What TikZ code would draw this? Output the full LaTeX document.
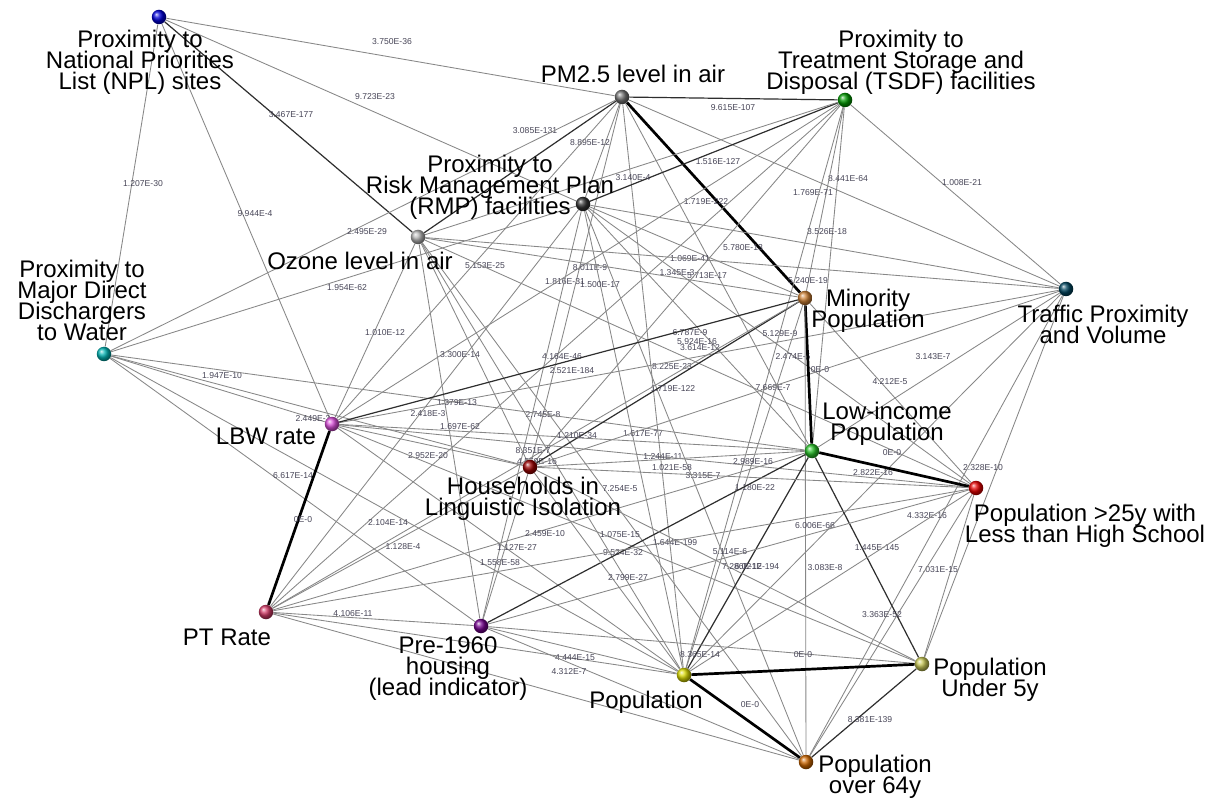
\documentclass[tikz,border=0pt]{standalone}
\usepackage{fontspec}
\setmainfont{Liberation Sans}
\pgfdeclarelayer{edgelayer}
\pgfsetlayers{edgelayer,main}
\definecolor{lbl}{RGB}{72,70,88}
% one connector with its p-value printed at a given spot
\newcommand\edgelink[5]{%
  \draw[#1] (#2) -- (#3);
  \node[el] (l#2#3) at (#4) {#5};}
\begin{document}
\begin{tikzpicture}[x=1pt,y=-1pt,
  ball/.style={circle,inner sep=0pt,minimum size=14.5pt,shading=ball,ball color=#1},
  eg/.style={draw=black!47,line width=0.85pt},
  ed/.style={draw=black!82,line width=1.2pt},
  et/.style={draw=black,line width=2.7pt},
  el/.style={font=\fontsize{8.6}{9}\selectfont,text=lbl,inner sep=0pt},
  nl/.style={font={\fontsize{24}{21}\selectfont\lineskiplimit=-30pt},align=center,inner sep=0pt,text=black}]
\useasboundingbox (0,0) rectangle (1210,799);

% indicator nodes
\node[ball={blue!85!black}]          (A) at (159,17)  {};
\node[ball={black!55}]               (B) at (622,97)  {};
\node[ball={green!60!black}]         (C) at (845,100) {};
\node[ball={black!80}]               (D) at (583,204) {};
\node[ball={black!30}]               (E) at (418,237) {};
\node[ball={cyan!70!black}]          (F) at (104,354) {};
\node[ball={teal!60!black!90!blue}]  (G) at (1066,289){};
\node[ball={brown!80!orange}]        (H) at (805,298) {};
\node[ball={violet!45!magenta!70}]   (I) at (332,424) {};
\node[ball={green!70!black!85}]      (J) at (812,451) {};
\node[ball={red!60!black}]           (K) at (530,467) {};
\node[ball={red!90!black}]           (L) at (976,488) {};
\node[ball={purple!70!pink}]         (M) at (266,612) {};
\node[ball={violet!90!blue}]         (N) at (481,626) {};
\node[ball={yellow!85!black}]        (O) at (684,675) {};
\node[ball={olive!45!white}]         (P) at (922,664) {};
\node[ball={orange!80!black}]        (Q) at (806,762) {};

% node captions
\node[nl] (tA) at (140,62)  {Proximity to\\National Priorities\\List (NPL) sites};
\node[nl] (tB) at (633,74)  {PM2.5 level in air};
\node[nl] (tC) at (901,62)  {Proximity to\\Treatment Storage and\\Disposal (TSDF) facilities};
\node[nl] (tD) at (490,187) {Proximity to\\Risk Management Plan\\(RMP) facilities};
\node[nl] (tE) at (360,261) {Ozone level in air};
\node[nl] (tF) at (82,300)  {Proximity to\\Major Direct\\Dischargers\\to Water};
\node[nl] (tG) at (1103,324){Traffic Proximity\\and Volume};
\node[nl] (tH) at (868,311) {Minority\\Population};
\node[nl] (tI) at (266,436) {LBW rate};
\node[nl] (tJ) at (887,424) {Low-income\\Population};
\node[nl] (tK) at (523,499) {Households in\\Linguistic Isolation};
\node[nl] (tL) at (1085,526){Population >25y with\\Less than High School};
\node[nl] (tM) at (227,637) {PT Rate};
\node[nl] (tN) at (448,669) {Pre-1960\\housing\\(lead indicator)};
\node[nl] (tO) at (646,702) {Population};
\node[nl] (tP) at (990,680) {Population\\Under 5y};
\node[nl] (tQ) at (875,777) {Population\\over 64y};

\begin{pgfonlayer}{edgelayer}
\fill[white] (0,0) rectangle (1210,799);
\edgelink{eg}{A}{B}{392,42}{3.750E-36}
\edgelink{eg}{A}{D}{375,97}{9.723E-23}
\edgelink{ed}{A}{E}{291,115}{3.467E-177}
\edgelink{eg}{A}{F}{143,184}{1.207E-30}
\edgelink{eg}{A}{I}{255,214}{9.944E-4}
\edgelink{ed}{B}{C}{733,108}{9.615E-107}
\edgelink{eg}{B}{D}{590,143}{8.895E-12}
\edgelink{ed}{B}{E}{535,131}{3.085E-131}
\edgelink{eg}{B}{F}{367,232}{2.495E-29}
\edgelink{eg}{B}{G}{848,179}{8.441E-64}
\edgelink{et}{B}{H}{706,202}{1.719E-222}
\edgelink{eg}{B}{I}{485,266}{5.153E-25}
\edgelink{eg}{B}{J}{707,276}{5.713E-17}
\edgelink{eg}{B}{K}{565,282}{1.816E-31}
\edgelink{eg}{B}{O}{672,367}{8.225E-23}
\edgelink{ed}{C}{D}{718,162}{1.516E-127}
\edgelink{eg}{C}{E}{633,178}{3.140E-4}
\edgelink{eg}{C}{G}{962,183}{1.008E-21}
\edgelink{eg}{C}{H}{813,193}{1.769E-71}
\edgelink{eg}{C}{I}{590,268}{8.011E-9}
\edgelink{eg}{C}{J}{808,281}{5.240E-19}
\edgelink{eg}{C}{K}{677,273}{1.345E-3}
\edgelink{eg}{C}{M}{562,357}{4.164E-46}
\edgelink{eg}{C}{O}{773,388}{7.669E-7}
\edgelink{eg}{D}{F}{347,288}{1.954E-62}
\edgelink{eg}{D}{G}{827,232}{3.526E-18}
\edgelink{eg}{D}{H}{690,259}{1.069E-41}
\edgelink{eg}{D}{J}{690,333}{6.787E-9}
\edgelink{eg}{D}{L}{780,334}{5.129E-9}
\edgelink{eg}{D}{M}{428,414}{2.418E-3}
\edgelink{eg}{D}{N}{543,415}{2.745E-8}
\edgelink{eg}{D}{O}{643,434}{1.617E-77}
\edgelink{eg}{D}{Q}{703,476}{3.315E-7}
\edgelink{eg}{E}{G}{743,248}{5.780E-13}
\edgelink{eg}{E}{H}{600,285}{1.500E-17}
\edgelink{eg}{E}{I}{385,333}{1.010E-12}
\edgelink{eg}{E}{K}{460,355}{3.300E-14}
\edgelink{eg}{E}{L}{700,348}{3.614E-12}
\edgelink{eg}{E}{N}{460,427}{1.697E-62}
\edgelink{eg}{E}{O}{537,462}{4.559E-16}
\edgelink{eg}{E}{Q}{620,489}{7.254E-5}
\edgelink{eg}{F}{I}{222,376}{1.947E-10}
\edgelink{eg}{F}{J}{457,403}{1.379E-13}
\edgelink{eg}{F}{K}{313,419}{2.449E-3}
\edgelink{eg}{F}{N}{293,476}{6.617E-14}
\edgelink{eg}{F}{O}{388,523}{2.104E-14}
\edgelink{eg}{G}{I}{697,342}{5.924E-16}
\edgelink{eg}{G}{J}{933,357}{3.143E-7}
\edgelink{eg}{G}{K}{793,357}{2.474E-5}
\edgelink{eg}{G}{O}{873,473}{2.822E-16}
\edgelink{eg}{G}{P}{983,468}{2.328E-10}
\edgelink{eg}{G}{Q}{927,516}{4.332E-16}
\edgelink{ed}{H}{I}{572,371}{2.521E-184}
\edgelink{et}{H}{J}{820,370}{0E-0}
\edgelink{ed}{H}{K}{673,389}{1.719E-122}
\edgelink{eg}{H}{L}{890,382}{4.212E-5}
\edgelink{eg}{H}{M}{533,451}{8.351E-7}
\edgelink{eg}{H}{O}{755,488}{1.180E-22}
\edgelink{eg}{H}{Q}{815,526}{6.006E-66}
\edgelink{eg}{I}{J}{577,436}{1.210E-34}
\edgelink{eg}{I}{K}{428,456}{2.952E-20}
\edgelink{eg}{I}{L}{663,456}{1.244E-11}
\edgelink{et}{I}{M}{303,520}{0E-0}
\edgelink{eg}{I}{O}{500,563}{1.558E-58}
\edgelink{eg}{I}{P}{623,553}{9.524E-32}
\edgelink{eg}{J}{K}{672,468}{1.021E-58}
\edgelink{et}{J}{L}{892,453}{0E-0}
\edgelink{eg}{J}{M}{545,534}{2.459E-10}
\edgelink{ed}{J}{N}{675,543}{1.644E-199}
\edgelink{ed}{J}{O}{757,567}{6.021E-194}
\edgelink{ed}{J}{P}{877,548}{1.445E-145}
\edgelink{eg}{K}{L}{753,462}{2.989E-16}
\edgelink{eg}{K}{M}{403,547}{1.128E-4}
\edgelink{eg}{K}{N}{517,547}{1.127E-27}
\edgelink{eg}{K}{O}{628,578}{2.799E-27}
\edgelink{eg}{K}{P}{742,567}{7.286E-12}
\edgelink{eg}{L}{M}{620,535}{1.075E-15}
\edgelink{eg}{L}{N}{730,552}{5.114E-6}
\edgelink{eg}{L}{O}{825,568}{3.083E-8}
\edgelink{eg}{L}{P}{938,570}{7.031E-15}
\edgelink{eg}{L}{Q}{882,615}{3.363E-52}
\edgelink{eg}{M}{N}{353,614}{4.106E-11}
\edgelink{eg}{M}{O}{575,658}{4.444E-15}
\edgelink{eg}{N}{Q}{569,672}{4.312E-7}
\edgelink{eg}{N}{P}{700,655}{8.365E-14}
\edgelink{et}{O}{P}{803,655}{0E-0}
\edgelink{et}{O}{Q}{750,705}{0E-0}
\edgelink{ed}{P}{Q}{870,720}{8.381E-139}
\draw[eg] (N) -- (O);
\draw[eg] (M) -- (Q);
\end{pgfonlayer}
\end{tikzpicture}
\end{document}
